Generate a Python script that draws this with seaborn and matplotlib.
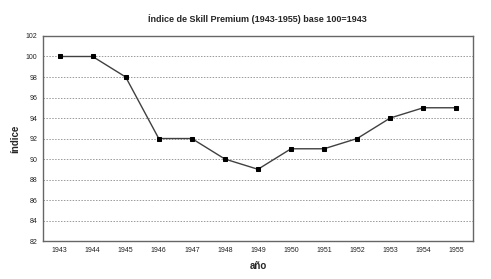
import matplotlib
matplotlib.use("Agg")
import matplotlib.pyplot as plt
import seaborn as sns
import pandas as pd

years = [1943, 1944, 1945, 1946, 1947, 1948, 1949, 1950, 1951, 1952, 1953, 1954, 1955]
indice = [100, 100, 98, 92, 92, 90, 89, 91, 91, 92, 94, 95, 95]
y_ticks = [82, 84, 86, 88, 90, 92, 94, 96, 98, 100, 102]

sns.set_style("white")
plt.rcParams['font.family'] = ['Liberation Sans', 'DejaVu Sans']

df = pd.DataFrame({"año": [str(y) for y in years], "índice": indice})

fig = plt.figure(figsize=(4.91, 2.79), dpi=100)
ax = fig.add_axes([0.0876, 0.136, 0.8755, 0.735])
sns.pointplot(data=df, x="año", y="índice", ax=ax, color="#404040",
              markers="s", markersize=2.6, linewidth=1.0)
for line in ax.lines:
    line.set_markerfacecolor("black")
    line.set_markeredgecolor("black")

ax.set_xlim(-0.5, len(years) - 0.5)
ax.set_ylim(82, 102)
ax.set_yticks(y_ticks)
ax.set_yticklabels([str(t) for t in y_ticks], fontsize=5, color="#222222")
ax.set_xticks(range(len(years)))
ax.set_xticklabels([str(y) for y in years], fontsize=5, color="#222222")
ax.tick_params(axis="both", length=0, pad=4)
ax.yaxis.grid(True, color="#999999", linestyle=(0, (1.5, 1.5)), linewidth=0.7)
ax.set_axisbelow(True)
for s in ax.spines.values():
    s.set_color("#666666")
    s.set_linewidth(1.0)

ax.set_xlabel("año", fontsize=7, fontweight="bold", labelpad=5)
ax.set_ylabel("índice", fontsize=7, fontweight="bold", labelpad=4)
fig.text(0.525, 0.932, "Índice de Skill Premium (1943-1955) base 100=1943",
         ha="center", va="center", fontsize=6.5, fontweight="bold")

fig.savefig("out.png", dpi=100)
